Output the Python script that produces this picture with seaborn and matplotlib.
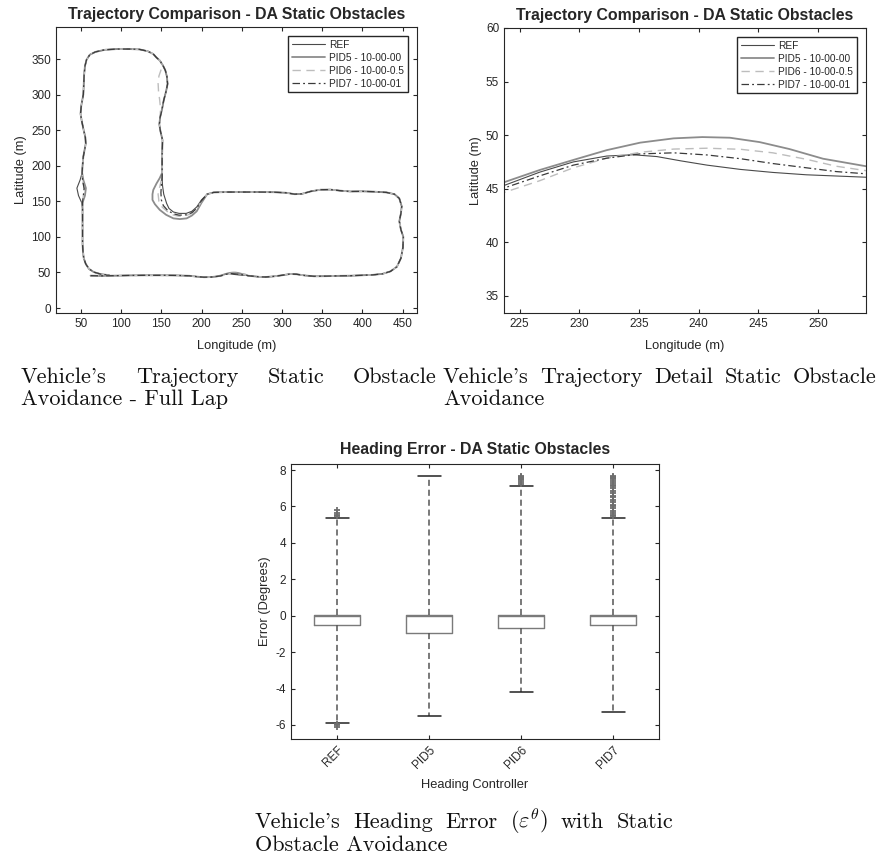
import matplotlib
matplotlib.use("Agg")
import matplotlib.pyplot as plt
import seaborn as sns
import pandas as pd

# ---- trajectory data (longitude, latitude in m) ----
bottom_west = [(62, 45.5), (75, 45.2), (90, 45.5), (110, 45.8), (130, 46), (150, 46),
               (170, 45.8), (185, 45.3), (195, 44), (203, 43.3), (212, 43.5), (219, 44.4)]

ref_detail = [(223.7, 45.3), (226.7, 46.55), (229.5, 47.5), (232.3, 48.05), (234.5, 48.17),
              (236.5, 48.0), (238.5, 47.6), (240.7, 47.2), (243.5, 46.8), (246.2, 46.52),
              (249, 46.3), (254.5, 46.05)]
pid5_detail = [(223.7, 45.6), (226.7, 46.75), (229.7, 47.75), (232.3, 48.6), (235.1, 49.3),
               (237.9, 49.7), (240.3, 49.82), (242.6, 49.76), (245.1, 49.35), (247.6, 48.7),
               (250.4, 47.8), (254.5, 47.0)]
pid6_detail = [(223.7, 44.65), (226.7, 45.75), (229.5, 46.95), (232.3, 47.85), (235.1, 48.4),
               (237.9, 48.7), (240.7, 48.78), (243.5, 48.68), (246.2, 48.35), (249, 47.75),
               (251.5, 47.1), (254.5, 46.6)]
pid7_detail = [(223.7, 45.06), (226.7, 46.2), (229.5, 47.2), (232.3, 47.85), (235.1, 48.25),
               (237.9, 48.35), (240.7, 48.15), (243.5, 47.8), (246.2, 47.35), (249, 46.95),
               (251.5, 46.6), (254.5, 46.35)]

bottom_east = [(258, 45.4), (265, 44.6), (272, 43.8), (280, 43.6), (290, 44.5), (300, 46),
               (310, 47.8), (318, 47.5), (328, 45.8), (340, 44.6), (355, 44.8), (370, 45.2),
               (385, 45.4), (400, 46), (413, 46.6), (425, 48), (435, 51.5), (443, 58),
               (448, 70), (450.5, 85), (451, 100), (448, 110), (446, 122), (448, 133),
               (449, 143), (446, 154), (440, 160), (430, 162.5), (415, 163.5), (400, 164),
               (385, 163.8), (372, 165), (360, 166.5), (348, 166.3), (336, 164), (325, 160.5),
               (316, 160), (305, 162), (290, 162.8), (270, 163), (250, 163), (230, 163),
               (215, 162.5)]

ref_corner = [(207, 160), (200, 152), (194, 142), (188, 136), (181, 133), (172, 133),
              (165, 135), (159.5, 140), (156.6, 147), (153, 160), (151.5, 172), (151, 182)]
pid5_corner = [(207, 160), (200, 148), (194, 136), (188, 130), (181.5, 126), (173, 125),
               (165, 126), (156, 131), (148, 138), (142, 146), (139, 152), (139, 160),
               (140, 166), (144, 175), (148, 182.6), (151, 190)]
pid6_corner = [(207, 160), (200, 150), (194, 139), (188, 133), (181, 130), (172, 129),
               (164, 131), (157, 136), (151, 142), (147, 150), (146, 160), (148, 170),
               (150, 180), (151, 190)]
pid7_corner = [(207, 160), (200, 151), (194, 140), (188, 134), (181, 131), (172, 130.5),
               (165, 132.5), (158, 137), (152.5, 144), (150, 152), (149.5, 162), (150, 172),
               (151, 184)]

inner_vertical = [(151, 195), (151, 215), (151.5, 236), (149, 248), (147.5, 258), (148.5, 268),
                  (151, 280), (153, 292), (156, 305), (157.8, 315), (157, 325), (155, 334),
                  (152, 341), (148, 348)]
pid6_vertical = [(151, 195), (151, 215), (151.5, 236), (149, 248), (147.5, 258), (148.5, 268),
                 (149, 280), (148, 292), (146.5, 305), (146, 316), (147, 326), (150, 336),
                 (152, 341), (148, 348)]

top_left = [(144, 352), (140, 357), (133, 361), (123, 363.5), (110, 364), (95, 364), (80, 363),
            (68, 360), (61, 356), (57, 349), (55, 340), (54, 328), (53.5, 315), (53, 300),
            (50.5, 285), (49.5, 273), (51, 263), (53, 252), (55.5, 240), (56, 231),
            (54.5, 222), (53, 213), (52, 200), (51.5, 190)]

ref_diamond = [(49, 180), (45, 168.5), (47, 158), (51, 148), (52, 140)]
pid5_diamond = [(53, 180), (56.2, 168.5), (55, 158), (52, 148), (52, 140)]
pid67_diamond = [(52, 180), (54, 168), (53, 158), (52, 148), (52, 140)]

bottom_left = [(52, 125), (52, 105), (52, 90), (52.5, 80), (53.5, 70), (56, 62), (60, 55),
               (66, 50.5), (75, 47.5), (85, 46.2)]

series = {
    "REF": bottom_west + ref_detail + bottom_east + ref_corner + inner_vertical
           + top_left + ref_diamond + bottom_left,
    "PID5 - 10-00-00": bottom_west + pid5_detail + bottom_east + pid5_corner + inner_vertical
                       + top_left + pid5_diamond + bottom_left,
    "PID6 - 10-00-0.5": bottom_west + pid6_detail + bottom_east + pid6_corner + pid6_vertical
                        + top_left + pid67_diamond + bottom_left,
    "PID7 - 10-00-01": bottom_west + pid7_detail + bottom_east + pid7_corner + inner_vertical
                       + top_left + pid67_diamond + bottom_left,
}

# ---- heading error box statistics (degrees) ----
controllers = ["REF", "PID5", "PID6", "PID7"]
q1 = [-0.53, -0.93, -0.69, -0.53]
medians = [-0.03, -0.02, 0.0, -0.03]
q3 = [0.02, 0.05, 0.05, 0.02]
whisker_low = [-5.88, -5.53, -4.17, -5.30]
whisker_high = [5.35, 7.65, 7.12, 5.38]
outliers = [
    [5.45, 5.55, 5.65, 5.8, -5.95, -6.0, -6.1],
    [],
    [7.25, 7.35, 7.45, 7.5, 7.55, 7.6, 7.65],
    [5.45, 5.55, 5.65, 5.75, 5.9, 6.0, 6.1, 6.25, 6.35, 6.5, 6.6, 6.75, 6.85, 7.0,
     7.1, 7.2, 7.3, 7.4, 7.5, 7.55, 7.6, 7.65],
]

rows = []
for name, pts in series.items():
    for i, (lon, lat) in enumerate(pts):
        rows.append({"series": name, "order": i, "lon": lon, "lat": lat})
df = pd.DataFrame(rows)

sns.set_style("ticks")
plt.rcParams["font.family"] = ["Liberation Sans", "DejaVu Sans"]
plt.rcParams["mathtext.fontset"] = "cm"
plt.rcParams["axes.unicode_minus"] = False
plt.rcParams["xtick.direction"] = "in"
plt.rcParams["ytick.direction"] = "in"
plt.rcParams["xtick.top"] = True
plt.rcParams["ytick.right"] = True
plt.rcParams["axes.edgecolor"] = "#262626"
plt.rcParams["axes.linewidth"] = 0.8
plt.rcParams["xtick.color"] = "#262626"
plt.rcParams["ytick.color"] = "#262626"
plt.rcParams["xtick.labelsize"] = 8.5
plt.rcParams["ytick.labelsize"] = 8.5
plt.rcParams["xtick.major.size"] = 3
plt.rcParams["ytick.major.size"] = 3

W, H = 881, 860
fig = plt.figure(figsize=(W / 100, H / 100), dpi=100)

def axes_px(left, top, right, bottom):
    return fig.add_axes([left / W, 1 - bottom / H, (right - left) / W, (bottom - top) / H])

ax1 = axes_px(56, 27, 417, 313)
ax2 = axes_px(504, 28, 866, 313)
ax3 = axes_px(291, 464, 659, 739)

names = list(series.keys())
palette = dict(zip(names, ["#4a4a4a", "#8c8c8c", "#bdbdbd", "#3a3a3a"]))
sizes = dict(zip(names, [0.8, 1.3, 1.0, 0.9]))
dashes = dict(zip(names, ["", "", (6, 4), (6, 2.5, 1.5, 2.5)]))

for ax in (ax1, ax2):
    sns.lineplot(data=df, x="lon", y="lat", hue="series", size="series", style="series",
                 hue_order=names, palette=palette, sizes=sizes, dashes=dashes,
                 sort=False, estimator=None, legend=False, ax=ax)
    ax.legend(ax.get_lines()[:4], names, loc="upper right", fontsize=7.3, frameon=True,
              fancybox=False, edgecolor="#262626", framealpha=1, handlelength=3.3,
              handletextpad=0.4, labelspacing=0.3, borderaxespad=0.9, borderpad=0.35)
    ax.set_title("Trajectory Comparison - DA Static Obstacles", fontsize=11.4,
                 fontweight="bold", pad=6)
    ax.set_xlabel("Longitude (m)", fontsize=9.3, labelpad=7)
    ax.set_ylabel("Latitude (m)", fontsize=9.3, labelpad=3)

ax1.set_xlim(19, 468)
ax1.set_ylim(-7, 395)
ax1.set_xticks(range(50, 451, 50))
ax1.set_yticks(range(0, 351, 50))
ax2.set_xlim(223.7, 254)
ax2.set_ylim(33.4, 60)
ax2.set_xticks(range(225, 251, 5))
ax2.set_yticks(range(35, 61, 5))

# box plot from the summary statistics
stats = []
for i, c in enumerate(controllers):
    stats.append({"label": c, "q1": q1[i], "med": medians[i], "q3": q3[i],
                  "whislo": whisker_low[i], "whishi": whisker_high[i], "fliers": outliers[i]})
ax3.bxp(stats, positions=[1, 2, 3, 4], widths=0.5, capwidths=0.25, manage_ticks=False,
        boxprops=dict(color="#7a7a7a", lw=1),
        medianprops=dict(color="#7a7a7a", lw=1),
        whiskerprops=dict(color="#555555", lw=1.1, ls=(0, (4, 2.5))),
        capprops=dict(color="#222222", lw=1.1),
        flierprops=dict(marker="+", markeredgecolor="#6e6e6e", markersize=5, mew=1.3))
ax3.set_xlim(0.5, 4.5)
ax3.set_ylim(-6.77, 8.33)
ax3.set_yticks(range(-6, 9, 2))
ax3.set_xticks([1, 2, 3, 4])
ax3.set_xticklabels(controllers, rotation=45, ha="right", va="top", rotation_mode="anchor")
ax3.set_title("Heading Error - DA Static Obstacles", fontsize=11.4, fontweight="bold", pad=7)
ax3.set_xlabel("Heading Controller", fontsize=9.3, labelpad=6)
ax3.set_ylabel("Error (Degrees)", fontsize=9.3, labelpad=3)

# captions set like justified LaTeX lines
cap_size = 16
cap_family = ["cmr10", "DejaVu Serif"]

def caption_line(words, x0, y, x1=None):
    texts = [fig.text(x0 / W, 1 - y / H, w, family=cap_family, fontsize=cap_size,
                      va="baseline", ha="left", color="#111111") for w in words]
    if x1 is None or len(words) == 1:
        return
    fig.canvas.draw()
    r = fig.canvas.get_renderer()
    widths = [t.get_window_extent(r).width for t in texts]
    gap = ((x1 - x0) - sum(widths)) / (len(words) - 1)
    x = x0
    for t, w in zip(texts, widths):
        t.set_x(x / W)
        x += w + gap

caption_line(["Vehicle's", "Trajectory", "Static", "Obstacle"], 21, 383, 437)
caption_line(["Avoidance - Full Lap"], 21, 405)
caption_line(["Vehicle's", "Trajectory", "Detail", "Static", "Obstacle"], 443, 383, 877)
caption_line(["Avoidance"], 443, 405)
caption_line(["Vehicle's", "Heading", "Error", r"$(\varepsilon^{\theta})$", "with", "Static"],
             255, 828, 673)
caption_line(["Obstacle Avoidance"], 255, 851)

fig.savefig("out.png", dpi=100)
